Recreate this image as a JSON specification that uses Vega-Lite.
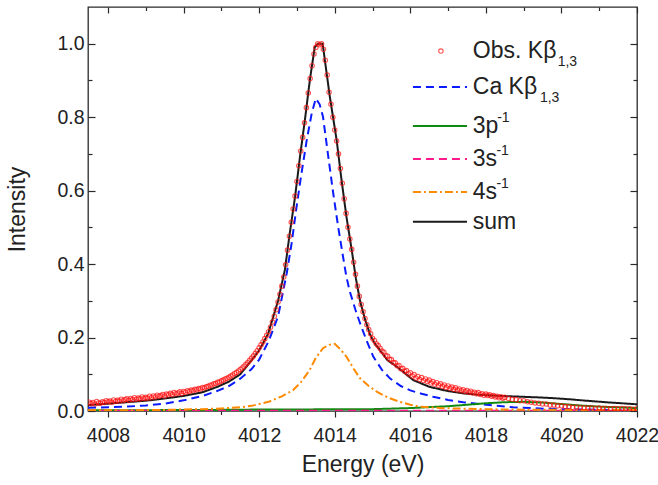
{
  "$schema": "https://vega.github.io/schema/vega-lite/v6.json",
  "width": 549,
  "height": 404,
  "autosize": "none",
  "padding": {"left": 88, "top": 7, "right": 21, "bottom": 74},
  "background": "white",
  "config": {
    "view": {"stroke": "#2a2a2a", "strokeWidth": 1.3},
    "font": "Liberation Sans",
    "axis": {"domain": false, "grid": false, "labelFont": "Liberation Sans", "titleFont": "Liberation Sans", "labelColor": "#222222", "titleColor": "#222222", "tickColor": "#2a2a2a", "tickWidth": 1.2, "labelFontSize": 19.5, "titleFontSize": 23, "titleFontWeight": "normal"}
  },
  "datasets": {
    "obs": [
      {"E":4007.50,"I":0.024},{"E":4007.55,"I":0.020},{"E":4007.60,"I":0.023},{"E":4007.65,"I":0.019},{"E":4007.70,"I":0.026},{"E":4007.75,"I":0.022},{"E":4007.80,"I":0.021},{"E":4007.85,"I":0.025},{"E":4007.90,"I":0.023},{"E":4007.95,"I":0.028},
      {"E":4008.00,"I":0.025},{"E":4008.05,"I":0.027},{"E":4008.10,"I":0.024},{"E":4008.15,"I":0.030},{"E":4008.20,"I":0.026},{"E":4008.25,"I":0.029},{"E":4008.30,"I":0.027},{"E":4008.35,"I":0.032},{"E":4008.40,"I":0.028},{"E":4008.45,"I":0.031},
      {"E":4008.50,"I":0.033},{"E":4008.55,"I":0.029},{"E":4008.60,"I":0.034},{"E":4008.65,"I":0.031},{"E":4008.70,"I":0.036},{"E":4008.75,"I":0.032},{"E":4008.80,"I":0.035},{"E":4008.85,"I":0.033},{"E":4008.90,"I":0.038},{"E":4008.95,"I":0.034},
      {"E":4009.00,"I":0.037},{"E":4009.05,"I":0.035},{"E":4009.10,"I":0.040},{"E":4009.15,"I":0.036},{"E":4009.20,"I":0.041},{"E":4009.25,"I":0.038},{"E":4009.30,"I":0.043},{"E":4009.35,"I":0.040},{"E":4009.40,"I":0.042},{"E":4009.45,"I":0.045},
      {"E":4009.50,"I":0.041},{"E":4009.55,"I":0.046},{"E":4009.60,"I":0.044},{"E":4009.65,"I":0.048},{"E":4009.70,"I":0.045},{"E":4009.75,"I":0.050},{"E":4009.80,"I":0.047},{"E":4009.85,"I":0.049},{"E":4009.90,"I":0.052},{"E":4009.95,"I":0.048},
      {"E":4010.00,"I":0.053},{"E":4010.05,"I":0.051},{"E":4010.10,"I":0.055},{"E":4010.15,"I":0.053},{"E":4010.20,"I":0.057},{"E":4010.25,"I":0.055},{"E":4010.30,"I":0.059},{"E":4010.35,"I":0.058},{"E":4010.40,"I":0.061},{"E":4010.45,"I":0.060},
      {"E":4010.50,"I":0.064},{"E":4010.55,"I":0.063},{"E":4010.60,"I":0.066},{"E":4010.65,"I":0.067},{"E":4010.70,"I":0.070},{"E":4010.75,"I":0.071},{"E":4010.80,"I":0.074},{"E":4010.85,"I":0.075},{"E":4010.90,"I":0.078},{"E":4010.95,"I":0.079},
      {"E":4011.00,"I":0.082},{"E":4011.05,"I":0.084},{"E":4011.10,"I":0.087},{"E":4011.15,"I":0.089},{"E":4011.20,"I":0.092},{"E":4011.25,"I":0.095},{"E":4011.30,"I":0.098},{"E":4011.35,"I":0.102},{"E":4011.40,"I":0.105},{"E":4011.45,"I":0.109},
      {"E":4011.50,"I":0.113},{"E":4011.55,"I":0.117},{"E":4011.60,"I":0.122},{"E":4011.65,"I":0.127},{"E":4011.70,"I":0.132},{"E":4011.75,"I":0.138},{"E":4011.80,"I":0.144},{"E":4011.85,"I":0.150},{"E":4011.90,"I":0.157},{"E":4011.95,"I":0.164},
      {"E":4012.00,"I":0.172},{"E":4012.05,"I":0.180},{"E":4012.10,"I":0.188},{"E":4012.15,"I":0.197},{"E":4012.20,"I":0.206},{"E":4012.25,"I":0.216},{"E":4012.30,"I":0.228},{"E":4012.35,"I":0.242},{"E":4012.40,"I":0.258},{"E":4012.45,"I":0.276},
      {"E":4012.50,"I":0.297},{"E":4012.55,"I":0.318},{"E":4012.60,"I":0.340},{"E":4012.65,"I":0.365},{"E":4012.70,"I":0.398},{"E":4012.75,"I":0.438},{"E":4012.80,"I":0.476},{"E":4012.85,"I":0.514},{"E":4012.90,"I":0.550},{"E":4012.95,"I":0.585},
      {"E":4013.00,"I":0.625},{"E":4013.05,"I":0.668},{"E":4013.10,"I":0.708},{"E":4013.15,"I":0.745},{"E":4013.20,"I":0.785},{"E":4013.25,"I":0.826},{"E":4013.30,"I":0.866},{"E":4013.35,"I":0.905},{"E":4013.40,"I":0.940},{"E":4013.45,"I":0.972},
      {"E":4013.50,"I":0.990},{"E":4013.55,"I":1.000},{"E":4013.60,"I":0.997},{"E":4013.65,"I":1.000},{"E":4013.70,"I":0.985},{"E":4013.75,"I":0.955},{"E":4013.80,"I":0.915},{"E":4013.85,"I":0.868},{"E":4013.90,"I":0.835},{"E":4013.95,"I":0.800},
      {"E":4014.00,"I":0.765},{"E":4014.05,"I":0.735},{"E":4014.10,"I":0.700},{"E":4014.15,"I":0.660},{"E":4014.20,"I":0.620},{"E":4014.25,"I":0.578},{"E":4014.30,"I":0.538},{"E":4014.35,"I":0.500},{"E":4014.40,"I":0.468},{"E":4014.45,"I":0.440},
      {"E":4014.50,"I":0.405},{"E":4014.55,"I":0.372},{"E":4014.60,"I":0.340},{"E":4014.65,"I":0.312},{"E":4014.70,"I":0.290},{"E":4014.75,"I":0.270},{"E":4014.80,"I":0.252},{"E":4014.85,"I":0.235},{"E":4014.90,"I":0.222},{"E":4014.95,"I":0.210},
      {"E":4015.00,"I":0.198},{"E":4015.05,"I":0.192},{"E":4015.10,"I":0.183},{"E":4015.15,"I":0.178},{"E":4015.20,"I":0.171},{"E":4015.25,"I":0.163},{"E":4015.30,"I":0.160},{"E":4015.35,"I":0.151},{"E":4015.40,"I":0.149},{"E":4015.45,"I":0.141},
      {"E":4015.50,"I":0.140},{"E":4015.55,"I":0.132},{"E":4015.60,"I":0.131},{"E":4015.65,"I":0.123},{"E":4015.70,"I":0.124},{"E":4015.75,"I":0.115},{"E":4015.80,"I":0.116},{"E":4015.85,"I":0.108},{"E":4015.90,"I":0.110},{"E":4015.95,"I":0.101},
      {"E":4016.00,"I":0.104},{"E":4016.05,"I":0.095},{"E":4016.10,"I":0.099},{"E":4016.15,"I":0.090},{"E":4016.20,"I":0.094},{"E":4016.25,"I":0.086},{"E":4016.30,"I":0.091},{"E":4016.35,"I":0.083},{"E":4016.40,"I":0.087},{"E":4016.45,"I":0.080},
      {"E":4016.50,"I":0.084},{"E":4016.55,"I":0.076},{"E":4016.60,"I":0.080},{"E":4016.65,"I":0.073},{"E":4016.70,"I":0.077},{"E":4016.75,"I":0.070},{"E":4016.80,"I":0.074},{"E":4016.85,"I":0.067},{"E":4016.90,"I":0.071},{"E":4016.95,"I":0.064},
      {"E":4017.00,"I":0.068},{"E":4017.05,"I":0.062},{"E":4017.10,"I":0.065},{"E":4017.15,"I":0.059},{"E":4017.20,"I":0.063},{"E":4017.25,"I":0.057},{"E":4017.30,"I":0.060},{"E":4017.35,"I":0.055},{"E":4017.40,"I":0.058},{"E":4017.45,"I":0.053},
      {"E":4017.50,"I":0.056},{"E":4017.55,"I":0.051},{"E":4017.60,"I":0.054},{"E":4017.65,"I":0.049},{"E":4017.70,"I":0.051},{"E":4017.75,"I":0.047},{"E":4017.80,"I":0.050},{"E":4017.85,"I":0.045},{"E":4017.90,"I":0.047},{"E":4017.95,"I":0.043},
      {"E":4018.00,"I":0.046},{"E":4018.05,"I":0.042},{"E":4018.10,"I":0.044},{"E":4018.15,"I":0.040},{"E":4018.20,"I":0.042},{"E":4018.25,"I":0.038},{"E":4018.30,"I":0.040},{"E":4018.35,"I":0.036},{"E":4018.40,"I":0.039},{"E":4018.45,"I":0.035},
      {"E":4018.50,"I":0.037},{"E":4018.60,"I":0.034},{"E":4018.70,"I":0.032},{"E":4018.80,"I":0.031},{"E":4018.90,"I":0.028},{"E":4019.00,"I":0.028},{"E":4019.10,"I":0.025},{"E":4019.20,"I":0.024},{"E":4019.30,"I":0.022},{"E":4019.40,"I":0.021},
      {"E":4019.50,"I":0.019},{"E":4019.60,"I":0.019},{"E":4019.70,"I":0.016},{"E":4019.80,"I":0.016},{"E":4019.90,"I":0.014},{"E":4020.00,"I":0.014},{"E":4020.10,"I":0.012},{"E":4020.20,"I":0.012},{"E":4020.30,"I":0.010},{"E":4020.40,"I":0.011},
      {"E":4020.50,"I":0.009},{"E":4020.60,"I":0.009},{"E":4020.70,"I":0.008},{"E":4020.80,"I":0.009},{"E":4020.90,"I":0.007},{"E":4021.00,"I":0.008},{"E":4021.10,"I":0.007},{"E":4021.20,"I":0.007},{"E":4021.30,"I":0.006},{"E":4021.40,"I":0.007},
      {"E":4021.50,"I":0.006},{"E":4021.60,"I":0.007},{"E":4021.70,"I":0.006},{"E":4021.80,"I":0.006},{"E":4021.90,"I":0.005},{"E":4022.00,"I":0.006}
    ],
    "fit": [
      {"series":"Ca","E":4007.47,"I":0.009},{"series":"Ca","E":4008.0,"I":0.010},{"series":"Ca","E":4008.5,"I":0.012},{"series":"Ca","E":4009.0,"I":0.015},{"series":"Ca","E":4009.5,"I":0.020},{"series":"Ca","E":4010.0,"I":0.029},{"series":"Ca","E":4010.5,"I":0.041},{"series":"Ca","E":4010.9,"I":0.055},{"series":"Ca","E":4011.2,"I":0.068},{"series":"Ca","E":4011.5,"I":0.088},{"series":"Ca","E":4011.8,"I":0.114},{"series":"Ca","E":4012.0,"I":0.140},{"series":"Ca","E":4012.25,"I":0.190},{"series":"Ca","E":4012.5,"I":0.257},{"series":"Ca","E":4012.73,"I":0.375},{"series":"Ca","E":4012.86,"I":0.457},{"series":"Ca","E":4012.99,"I":0.556},{"series":"Ca","E":4013.12,"I":0.647},{"series":"Ca","E":4013.26,"I":0.738},{"series":"Ca","E":4013.39,"I":0.810},{"series":"Ca","E":4013.5,"I":0.851},{"series":"Ca","E":4013.6,"I":0.835},{"series":"Ca","E":4013.69,"I":0.801},{"series":"Ca","E":4013.83,"I":0.692},{"series":"Ca","E":4013.96,"I":0.593},{"series":"Ca","E":4014.09,"I":0.502},{"series":"Ca","E":4014.22,"I":0.420},{"series":"Ca","E":4014.31,"I":0.365},{"series":"Ca","E":4014.4,"I":0.325},{"series":"Ca","E":4014.55,"I":0.275},{"series":"Ca","E":4014.67,"I":0.239},{"series":"Ca","E":4014.85,"I":0.190},{"series":"Ca","E":4015.02,"I":0.148},{"series":"Ca","E":4015.25,"I":0.112},{"series":"Ca","E":4015.46,"I":0.089},{"series":"Ca","E":4015.75,"I":0.068},{"series":"Ca","E":4016.0,"I":0.056},{"series":"Ca","E":4016.3,"I":0.047},{"series":"Ca","E":4016.6,"I":0.039},{"series":"Ca","E":4017.0,"I":0.030},{"series":"Ca","E":4017.4,"I":0.024},{"series":"Ca","E":4017.84,"I":0.019},{"series":"Ca","E":4018.3,"I":0.014},{"series":"Ca","E":4018.72,"I":0.010},{"series":"Ca","E":4019.2,"I":0.008},{"series":"Ca","E":4019.6,"I":0.006},{"series":"Ca","E":4020.5,"I":0.004},{"series":"Ca","E":4021.3,"I":0.003},{"series":"Ca","E":4022.0,"I":0.003},
      {"series":"3p","E":4007.47,"I":0.002},{"series":"3p","E":4009.0,"I":0.002},{"series":"3p","E":4010.0,"I":0.003},{"series":"3p","E":4011.0,"I":0.003},{"series":"3p","E":4012.0,"I":0.004},{"series":"3p","E":4013.0,"I":0.004},{"series":"3p","E":4014.0,"I":0.005},{"series":"3p","E":4015.0,"I":0.005},{"series":"3p","E":4016.0,"I":0.008},{"series":"3p","E":4017.0,"I":0.013},{"series":"3p","E":4017.5,"I":0.017},{"series":"3p","E":4018.0,"I":0.021},{"series":"3p","E":4018.5,"I":0.024},{"series":"3p","E":4019.0,"I":0.025},{"series":"3p","E":4019.5,"I":0.023},{"series":"3p","E":4020.0,"I":0.019},{"series":"3p","E":4020.5,"I":0.015},{"series":"3p","E":4021.0,"I":0.012},{"series":"3p","E":4021.5,"I":0.010},{"series":"3p","E":4022.0,"I":0.008},
      {"series":"3s","E":4007.47,"I":0.001},{"series":"3s","E":4011.0,"I":0.001},{"series":"3s","E":4015.0,"I":0.001},{"series":"3s","E":4019.0,"I":0.001},{"series":"3s","E":4022.0,"I":0.001},
      {"series":"4s","E":4007.47,"I":0.002},{"series":"4s","E":4008.5,"I":0.002},{"series":"4s","E":4009.5,"I":0.003},{"series":"4s","E":4010.5,"I":0.005},{"series":"4s","E":4011.0,"I":0.007},{"series":"4s","E":4011.5,"I":0.010},{"series":"4s","E":4011.8,"I":0.014},{"series":"4s","E":4012.0,"I":0.019},{"series":"4s","E":4012.25,"I":0.025},{"series":"4s","E":4012.6,"I":0.040},{"series":"4s","E":4012.9,"I":0.057},{"series":"4s","E":4013.1,"I":0.078},{"series":"4s","E":4013.34,"I":0.112},{"series":"4s","E":4013.5,"I":0.145},{"series":"4s","E":4013.69,"I":0.171},{"series":"4s","E":4013.85,"I":0.180},{"series":"4s","E":4014.0,"I":0.183},{"series":"4s","E":4014.15,"I":0.168},{"series":"4s","E":4014.31,"I":0.148},{"series":"4s","E":4014.5,"I":0.115},{"series":"4s","E":4014.67,"I":0.089},{"series":"4s","E":4014.9,"I":0.068},{"series":"4s","E":4015.11,"I":0.053},{"series":"4s","E":4015.4,"I":0.037},{"series":"4s","E":4015.72,"I":0.025},{"series":"4s","E":4016.0,"I":0.017},{"series":"4s","E":4016.25,"I":0.012},{"series":"4s","E":4016.8,"I":0.008},{"series":"4s","E":4017.5,"I":0.006},{"series":"4s","E":4018.5,"I":0.004},{"series":"4s","E":4020.0,"I":0.003},{"series":"4s","E":4022.0,"I":0.003},
      {"series":"sum","E":4007.47,"I":0.016},{"series":"sum","E":4008.0,"I":0.020},{"series":"sum","E":4008.5,"I":0.024},{"series":"sum","E":4009.0,"I":0.028},{"series":"sum","E":4009.5,"I":0.034},{"series":"sum","E":4010.0,"I":0.041},{"series":"sum","E":4010.5,"I":0.051},{"series":"sum","E":4010.9,"I":0.066},{"series":"sum","E":4011.2,"I":0.080},{"series":"sum","E":4011.5,"I":0.100},{"series":"sum","E":4011.8,"I":0.138},{"series":"sum","E":4012.0,"I":0.165},{"series":"sum","E":4012.24,"I":0.211},{"series":"sum","E":4012.5,"I":0.300},{"series":"sum","E":4012.68,"I":0.384},{"series":"sum","E":4012.81,"I":0.484},{"series":"sum","E":4012.95,"I":0.583},{"series":"sum","E":4013.08,"I":0.692},{"series":"sum","E":4013.21,"I":0.792},{"series":"sum","E":4013.34,"I":0.900},{"series":"sum","E":4013.47,"I":0.990},{"series":"sum","E":4013.55,"I":1.000},{"series":"sum","E":4013.68,"I":1.000},{"series":"sum","E":4013.87,"I":0.856},{"series":"sum","E":4014.05,"I":0.738},{"series":"sum","E":4014.18,"I":0.629},{"series":"sum","E":4014.31,"I":0.529},{"series":"sum","E":4014.45,"I":0.438},{"series":"sum","E":4014.56,"I":0.361},{"series":"sum","E":4014.67,"I":0.300},{"series":"sum","E":4014.8,"I":0.250},{"series":"sum","E":4014.93,"I":0.210},{"series":"sum","E":4015.05,"I":0.185},{"series":"sum","E":4015.2,"I":0.165},{"series":"sum","E":4015.4,"I":0.138},{"series":"sum","E":4015.64,"I":0.121},{"series":"sum","E":4016.08,"I":0.084},{"series":"sum","E":4016.5,"I":0.066},{"series":"sum","E":4016.96,"I":0.055},{"series":"sum","E":4017.4,"I":0.048},{"series":"sum","E":4017.84,"I":0.044},{"series":"sum","E":4018.4,"I":0.041},{"series":"sum","E":4018.9,"I":0.039},{"series":"sum","E":4019.4,"I":0.037},{"series":"sum","E":4019.78,"I":0.035},{"series":"sum","E":4020.2,"I":0.032},{"series":"sum","E":4020.66,"I":0.028},{"series":"sum","E":4021.3,"I":0.023},{"series":"sum","E":4021.9,"I":0.019},{"series":"sum","E":4022.0,"I":0.018}
    ]
  },
  "layer": [
    {
      "data": {"name": "fit"},
      "mark": {"type": "line", "strokeWidth": 2, "clip": true},
      "encoding": {
        "x": {"field": "E", "type": "quantitative", "scale": {"domain": [4007.47, 4022], "nice": false, "zero": false},
          "axis": {"orient": "bottom", "values": [4008,4009,4010,4011,4012,4013,4014,4015,4016,4017,4018,4019,4020,4021,4022], "format": "d", "labelExpr": "datum.value % 2 === 0 ? datum.label : ''", "tickSize": {"condition": {"test": "datum.value % 2 === 0", "value": 6}, "value": 3.5}, "labelPadding": 9, "labelFlush": false, "labelOverlap": false, "title": "Energy (eV)", "titlePadding": 9}},
        "y": {"field": "I", "type": "quantitative", "scale": {"domain": [0, 1.1], "nice": false, "zero": false},
          "axis": {"orient": "left", "values": [0,0.1,0.2,0.3,0.4,0.5,0.6,0.7,0.8,0.9,1.0], "format": ".1f", "labelExpr": "round(datum.value*10) % 2 === 0 ? datum.label : ''", "tickSize": {"condition": {"test": "round(datum.value*10) % 2 === 0", "value": -7}, "value": -4}, "labelPadding": 11, "labelFlush": false, "labelOverlap": false, "title": "Intensity", "titlePadding": 27}},
        "color": {"field": "series", "type": "nominal", "legend": null, "scale": {"domain": ["Ca","3p","3s","4s","sum"], "range": ["#0a1cff","#118a11","#ff1a8c","#ff8a00","#1a1a1a"]}},
        "strokeDash": {"field": "series", "type": "nominal", "legend": null, "scale": {"domain": ["Ca","3p","3s","4s","sum"], "range": [[8,5],[1,0],[8,5],[8,3,2,3],[1,0]]}}
      }
    },
    {
      "data": {"name": "obs"},
      "mark": {"type": "point", "shape": "circle", "filled": false, "color": "#ff1010", "size": 20, "strokeWidth": 1.1, "clip": true},
      "encoding": {
        "x": {"field": "E", "type": "quantitative", "axis": null},
        "y": {"field": "I", "type": "quantitative", "axis": null}
      }
    },
    {
      "data": {"values": [{}]},
      "mark": {"type": "point", "opacity": 0},
      "encoding": {
        "x": {"datum": 4015, "type": "quantitative", "axis": {"orient": "top", "values": [4008,4009,4010,4011,4012,4013,4014,4015,4016,4017,4018,4019,4020,4021,4022], "labels": false, "title": null, "tickSize": {"condition": {"test": "datum.value % 2 === 0", "value": -6}, "value": -3.5}}},
        "y": {"datum": 0.5, "type": "quantitative", "axis": {"orient": "right", "values": [0,0.1,0.2,0.3,0.4,0.5,0.6,0.7,0.8,0.9,1.0], "labels": false, "title": null, "tickSize": {"condition": {"test": "round(datum.value*10) % 2 === 0", "value": -7}, "value": -4}}}
      }
    },
    {
      "data": {"values": [{"label": "Obs. Kβ", "script": "1,3"}]},
      "encoding": {"y": {"datum": 0.980, "type": "quantitative", "axis": null}},
      "layer": [
        {"mark": {"type": "point", "shape": "circle", "filled": false, "color": "#ff1010", "size": 20, "strokeWidth": 1.1}, "encoding": {"x": {"datum": 4016.81, "type": "quantitative", "axis": null}}},
        {"mark": {"type": "text", "align": "left", "baseline": "middle", "fontSize": 23, "color": "#222222"}, "encoding": {"x": {"datum": 4017.655, "type": "quantitative", "axis": null}, "text": {"field": "label"}}},
        {"mark": {"type": "text", "align": "left", "baseline": "middle", "fontSize": 14, "dy": 11, "color": "#222222"}, "encoding": {"x": {"datum": 4019.90, "type": "quantitative", "axis": null}, "text": {"field": "script"}}}
      ]
    },
    {
      "data": {"values": [{"label": "Ca Kβ", "script": "1,3"}]},
      "encoding": {"y": {"datum": 0.882, "type": "quantitative", "axis": null}},
      "layer": [
        {"mark": {"type": "rule", "color": "#0a1cff", "strokeWidth": 2, "strokeDash": [8,5]}, "encoding": {"x": {"datum": 4016.07, "type": "quantitative", "axis": null}, "x2": {"datum": 4017.5}}},
        {"mark": {"type": "text", "align": "left", "baseline": "middle", "fontSize": 23, "color": "#222222"}, "encoding": {"x": {"datum": 4017.655, "type": "quantitative", "axis": null}, "text": {"field": "label"}}},
        {"mark": {"type": "text", "align": "left", "baseline": "middle", "fontSize": 14, "dy": 11, "color": "#222222"}, "encoding": {"x": {"datum": 4019.43, "type": "quantitative", "axis": null}, "text": {"field": "script"}}}
      ]
    },
    {
      "data": {"values": [{"label": "3p", "script": "-1"}]},
      "encoding": {"y": {"datum": 0.776, "type": "quantitative", "axis": null}},
      "layer": [
        {"mark": {"type": "rule", "color": "#118a11", "strokeWidth": 2}, "encoding": {"x": {"datum": 4016.07, "type": "quantitative", "axis": null}, "x2": {"datum": 4017.5}}},
        {"mark": {"type": "text", "align": "left", "baseline": "middle", "fontSize": 23, "color": "#222222"}, "encoding": {"x": {"datum": 4017.655, "type": "quantitative", "axis": null}, "text": {"field": "label"}}},
        {"mark": {"type": "text", "align": "left", "baseline": "middle", "fontSize": 14, "dy": -8, "color": "#222222"}, "encoding": {"x": {"datum": 4018.30, "type": "quantitative", "axis": null}, "text": {"field": "script"}}}
      ]
    },
    {
      "data": {"values": [{"label": "3s", "script": "-1"}]},
      "encoding": {"y": {"datum": 0.686, "type": "quantitative", "axis": null}},
      "layer": [
        {"mark": {"type": "rule", "color": "#ff1a8c", "strokeWidth": 2, "strokeDash": [8,5]}, "encoding": {"x": {"datum": 4016.07, "type": "quantitative", "axis": null}, "x2": {"datum": 4017.5}}},
        {"mark": {"type": "text", "align": "left", "baseline": "middle", "fontSize": 23, "color": "#222222"}, "encoding": {"x": {"datum": 4017.655, "type": "quantitative", "axis": null}, "text": {"field": "label"}}},
        {"mark": {"type": "text", "align": "left", "baseline": "middle", "fontSize": 14, "dy": -8, "color": "#222222"}, "encoding": {"x": {"datum": 4018.28, "type": "quantitative", "axis": null}, "text": {"field": "script"}}}
      ]
    },
    {
      "data": {"values": [{"label": "4s", "script": "-1"}]},
      "encoding": {"y": {"datum": 0.596, "type": "quantitative", "axis": null}},
      "layer": [
        {"mark": {"type": "rule", "color": "#ff8a00", "strokeWidth": 2, "strokeDash": [8,3,2,3]}, "encoding": {"x": {"datum": 4016.07, "type": "quantitative", "axis": null}, "x2": {"datum": 4017.5}}},
        {"mark": {"type": "text", "align": "left", "baseline": "middle", "fontSize": 23, "color": "#222222"}, "encoding": {"x": {"datum": 4017.655, "type": "quantitative", "axis": null}, "text": {"field": "label"}}},
        {"mark": {"type": "text", "align": "left", "baseline": "middle", "fontSize": 14, "dy": -8, "color": "#222222"}, "encoding": {"x": {"datum": 4018.28, "type": "quantitative", "axis": null}, "text": {"field": "script"}}}
      ]
    },
    {
      "data": {"values": [{"label": "sum"}]},
      "encoding": {"y": {"datum": 0.515, "type": "quantitative", "axis": null}},
      "layer": [
        {"mark": {"type": "rule", "color": "#1a1a1a", "strokeWidth": 2}, "encoding": {"x": {"datum": 4016.07, "type": "quantitative", "axis": null}, "x2": {"datum": 4017.5}}},
        {"mark": {"type": "text", "align": "left", "baseline": "middle", "fontSize": 23, "color": "#222222"}, "encoding": {"x": {"datum": 4017.655, "type": "quantitative", "axis": null}, "text": {"field": "label"}}}
      ]
    }
  ],
  "resolve": {"axis": {"x": "independent", "y": "independent"}}
}
